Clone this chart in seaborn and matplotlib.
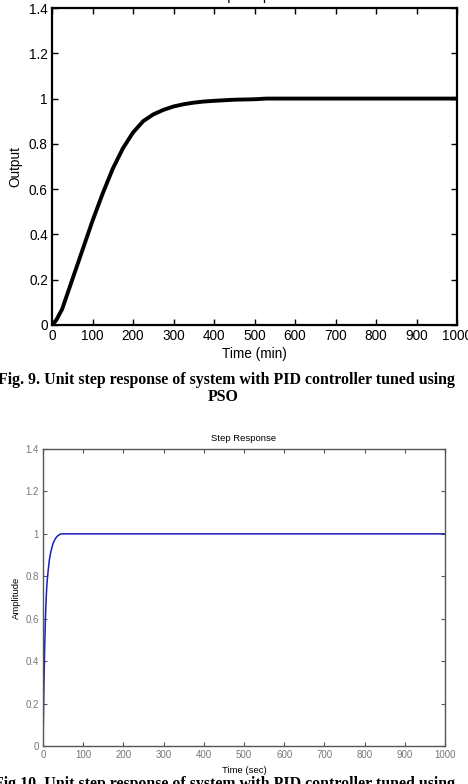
import numpy as np
import pandas as pd
import matplotlib
matplotlib.use("Agg")
import matplotlib.pyplot as plt
import seaborn as sns

# PSO-tuned PID response (Fig. 9)
t_pso = [0, 10, 25, 50, 75, 100, 125, 150, 175, 200, 225, 250, 275, 300, 325,
         350, 375, 400, 450, 500, 530, 600, 700, 800, 900, 1000]
y_pso = [0, 0.02, 0.07, 0.2, 0.33, 0.46, 0.58, 0.69, 0.78, 0.85, 0.90, 0.93,
         0.95, 0.965, 0.975, 0.982, 0.987, 0.99, 0.995, 0.997, 1.0, 1.0, 1.0,
         1.0, 1.0, 1.0]

# Second PID response (Fig. 10)
t_pid = [0, 2, 4, 6, 8, 10, 13, 16, 20, 25, 30, 35, 40, 45, 50, 1000]
y_pid = [0, 0.25, 0.45, 0.6, 0.7, 0.77, 0.83, 0.88, 0.92, 0.955, 0.975, 0.988,
         0.995, 1.0, 1.0, 1.0]

x_ticks = [0, 100, 200, 300, 400, 500, 600, 700, 800, 900, 1000]
y_ticks = [0, 0.2, 0.4, 0.6, 0.8, 1, 1.2, 1.4]
y_ticklabels = ["0", "0.2", "0.4", "0.6", "0.8", "1", "1.2", "1.4"]

sns.set_theme(style="white")
plt.rcParams['font.family'] = ['Liberation Sans', 'DejaVu Sans']

W, H = 468, 784
fig = plt.figure(figsize=(W / 100, H / 100), dpi=100)

def ax_rect(l, t, r, b):
    return [l / W, 1 - b / H, (r - l) / W, (b - t) / H]

# ---- Top plot ----
ax1 = fig.add_axes(ax_rect(52, 8, 457, 325))
df1 = pd.DataFrame({"t": t_pso, "y": y_pso})
sns.lineplot(data=df1, x="t", y="y", ax=ax1, color="black", linewidth=2.8)
ax1.set_xlim(0, 1000)
ax1.set_ylim(0, 1.4)
ax1.set_xticks(x_ticks)
ax1.set_yticks(y_ticks)
ax1.set_yticklabels(y_ticklabels)
ax1.tick_params(direction="in", length=4, width=1, colors="black",
                labelsize=9.8, top=True, right=True, bottom=True, left=True, pad=3)
for s in ax1.spines.values():
    s.set_color("black")
    s.set_linewidth(1.6)
ax1.set_xlabel("Time (min)", fontsize=9.8, color="black", labelpad=3)
ax1.set_ylabel("Output", fontsize=9.8, color="black", labelpad=5)
fig.text(254 / W, 1 - (-4) / H, "Step Response", ha="center", va="center",
         fontsize=9.8, color="black")

fig.text(226 / W, 1 - 380 / H,
         "Fig. 9. Unit step response of system with PID controller tuned using",
         ha="center", va="center", fontsize=11.4, fontweight="bold",
         family=["Liberation Serif"], color="black")
fig.text(223 / W, 1 - 397 / H, "PSO", ha="center", va="center",
         fontsize=11.4, fontweight="bold", family=["Liberation Serif"],
         color="black")

# ---- Bottom plot ----
ax2 = fig.add_axes(ax_rect(43, 449, 445, 746))
df2 = pd.DataFrame({"t": t_pid, "y": y_pid})
sns.lineplot(data=df2, x="t", y="y", ax=ax2, color="#1c1cbf", linewidth=1.1)
ax2.set_xlim(0, 1000)
ax2.set_ylim(0, 1.4)
ax2.set_xticks(x_ticks)
ax2.set_yticks(y_ticks)
ax2.set_yticklabels(y_ticklabels)
ax2.tick_params(direction="in", length=3, width=0.8, colors="#555555",
                labelcolor="#777777", labelsize=7,
                top=True, right=True, bottom=True, left=True, pad=3)
for s in ax2.spines.values():
    s.set_color("#555555")
    s.set_linewidth(1.0)
ax2.set_xlabel("Time (sec)", fontsize=6.8, color="black", labelpad=4)
ax2.set_ylabel("Amplitude", fontsize=6.8, color="black", labelpad=3)
ax2.set_title("Step Response", fontsize=6.8, color="black", pad=6)

fig.text(224 / W, 1 - 784 / H,
         "Fig.10. Unit step response of system with PID controller tuned using",
         ha="center", va="center", fontsize=11.4, fontweight="bold",
         family=["Liberation Serif"], color="black")

fig.savefig("out.png", dpi=100, facecolor="white")
